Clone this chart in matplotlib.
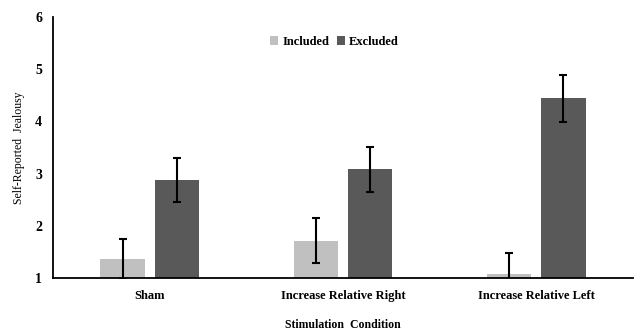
import numpy as np
import matplotlib
matplotlib.use('agg')
from matplotlib import pyplot as plt

# data
conditions = ['Sham', 'Increase Relative Right', 'Increase Relative Left']
included = [1.36, 1.71, 1.08]
excluded = [2.88, 3.08, 4.44]
included_err = [0.38, 0.43, 0.39]
excluded_err = [0.42, 0.43, 0.45]

plt.rcParams['font.family'] = ['Liberation Serif', 'DejaVu Serif']

fig = plt.figure(figsize=(6.34, 3.32), dpi=100)
ax = fig.add_axes([0.084, 0.163, 0.914, 0.786])

x = np.arange(len(conditions))
width = 0.23
offset = 0.141
err_kw = dict(ecolor='black', elinewidth=1.5, capsize=3, capthick=1.5)
ax.bar(x - offset, np.array(included) - 1, width, bottom=1, color='#c0c0c0',
       yerr=included_err, error_kw=err_kw, label='Included')
ax.bar(x + offset, np.array(excluded) - 1, width, bottom=1, color='#595959',
       yerr=excluded_err, error_kw=err_kw, label='Excluded')

ax.set_xlim(-0.5, 2.5)
ax.set_ylim(1, 6)
ax.set_yticks(range(1, 7))
ax.set_xticks(x)
ax.set_xticklabels(conditions, fontsize=9, fontweight='bold')
for lab in ax.get_yticklabels():
    lab.set_fontsize(10)
    lab.set_fontweight('bold')
ax.tick_params(length=0, pad=8)
ax.tick_params(axis='x', pad=9)

ax.spines['top'].set_visible(False)
ax.spines['right'].set_visible(False)
ax.spines['left'].set_linewidth(1.3)
ax.spines['bottom'].set_linewidth(1.3)

ax.set_ylabel('Self-Reported  Jealousy', fontsize=8.5, labelpad=7)
ax.set_xlabel('Stimulation  Condition', fontsize=8.5, fontweight='bold', labelpad=12)

ax.legend(loc='upper center', bbox_to_anchor=(0.485, 0.97), ncol=2, frameon=False,
          prop={'size': 9, 'weight': 'bold'}, handlelength=0.7, handleheight=0.7,
          handletextpad=0.3, columnspacing=0.6)

fig.savefig('out.png', dpi=100)
